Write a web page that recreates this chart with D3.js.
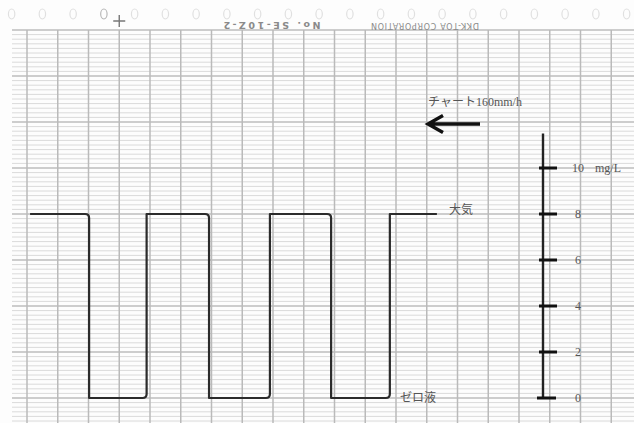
<!DOCTYPE html>
<html>
<head>
<meta charset="utf-8">
<script src="https://cdn.jsdelivr.net/npm/d3@7"></script>
<style>
  html, body { margin: 0; padding: 0; background: #fdfdfd; }
  svg { display: block; }
</style>
</head>
<body>
<svg id="chart" width="634" height="423"></svg>
<script>
// Recorder chart: dissolved-oxygen calibration trace (air / zero solution)

// Concentration scale ticks (mg/L)
const axisTicks = [0, 2, 4, 6, 8, 10];
const axisTop = 11.5;            // upper end of the printed scale bar
const unitLabel = "mg/L";

// Trace: chart-division positions where the level switches, and the level held after each switch
const switchTimes = [0.1, 2.02, 3.89, 5.92, 7.90, 9.89, 11.80, 13.33];
const levels      = [8, 0, 8, 0, 8, 0, 8];

// Annotations
const speedLabel = "チャート160mm/h";
const airLabel = "大気";
const zeroLabel = "ゼロ液";
const paperCode = "No. SE-10Z-2";
const maker = "DKK-TOA CORPORATION";

const W = 634, H = 423;
const svg = d3.select("#chart");

// Chart-paper coordinates: one time division per vertical rule, concentration vertically
const x = d3.scaleLinear().domain([0, 19]).range([27, 611.25]);
const y = d3.scaleLinear().domain([0, 10]).range([398, 168]);

const gridLeft = 12, gridTop = y(16);
const isMajor = d => Math.abs(d / 2 - Math.round(d / 2)) < 1e-6;

// Paper background
svg.append("rect").attr("width", W).attr("height", H).attr("fill", "#fdfdfd");

// Horizontal rules: fine every 0.2 mg/L, heavier every 2 mg/L
const hVals = d3.range(-5, 81).map(i => i / 5);   // -1.0 .. 16.0
svg.append("g").selectAll("line")
  .data(hVals)
  .join("line")
  .attr("x1", gridLeft).attr("x2", W)
  .attr("y1", d => y(d)).attr("y2", d => y(d))
  .attr("stroke", d => isMajor(d) ? "#bcbcbc" : "#dadada")
  .attr("stroke-width", d => isMajor(d) ? 1.3 : 1);

// Vertical time rules
svg.append("g").selectAll("line")
  .data(d3.range(0, 20))
  .join("line")
  .attr("x1", d => x(d)).attr("x2", d => x(d))
  .attr("y1", gridTop).attr("y2", H)
  .attr("stroke", "#bababa")
  .attr("stroke-width", 1.5);

// Printed marks along the top margin, centred between the time rules
svg.append("g").selectAll("ellipse")
  .data(d3.range(-1, 20))
  .join("ellipse")
  .attr("cx", d => x(d + 0.5))
  .attr("cy", 14)
  .attr("rx", 3.2).attr("ry", 5)
  .attr("fill", "none")
  .attr("stroke", d => d === 2 ? "#b8b8b8" : "#e0e0e0")
  .attr("stroke-width", 1.2);

// Registration cross
svg.append("path")
  .attr("d", `M${x(3) - 6},21H${x(3) + 6}M${x(3)},15V27`)
  .attr("stroke", "#777").attr("stroke-width", 1.4).attr("fill", "none");

// Paper maker's print, upside down
svg.append("text")
  .attr("transform", "translate(272,24) rotate(180)")
  .attr("text-anchor", "middle").attr("dominant-baseline", "middle")
  .attr("font-family", "DejaVu Sans, sans-serif")
  .attr("font-weight", "bold").attr("font-size", 9.5)
  .attr("textLength", 97).attr("lengthAdjust", "spacing")
  .attr("fill", "#8a8a8a")
  .text(paperCode);
svg.append("text")
  .attr("transform", "translate(425,25) rotate(180)")
  .attr("text-anchor", "middle").attr("dominant-baseline", "middle")
  .attr("font-family", "DejaVu Sans, sans-serif")
  .attr("font-size", 8)
  .attr("textLength", 108).attr("lengthAdjust", "spacing")
  .attr("fill", "#8a8a8a")
  .text(maker);

// Recorded trace: square wave with the rounded settling corner at the end of each level
const r = 4;
const p = d3.path();
p.moveTo(x(switchTimes[0]), y(levels[0]));
levels.forEach((lv, i) => {
  const xe = x(switchTimes[i + 1]);
  const yv = y(lv);
  if (i + 1 < levels.length) {
    const yn = y(levels[i + 1]);
    const dir = Math.sign(yn - yv);
    p.lineTo(xe - r, yv);
    p.quadraticCurveTo(xe, yv, xe, yv + dir * r);
    p.lineTo(xe, yn);
  } else {
    p.lineTo(xe, yv);
  }
});
svg.append("path")
  .attr("d", p.toString())
  .attr("fill", "none")
  .attr("stroke", "#2b2b2b")
  .attr("stroke-width", 2.2)
  .attr("stroke-linejoin", "round");

// Concentration scale bar
const axisX = 543;
const scale = svg.append("g");
scale.append("line")
  .attr("x1", axisX).attr("x2", axisX)
  .attr("y1", y(axisTop)).attr("y2", y(0))
  .attr("stroke", "#222").attr("stroke-width", 2.4);
scale.selectAll("line.tick")
  .data(axisTicks)
  .join("line")
  .attr("class", "tick")
  .attr("x1", d => d === 0 ? axisX - 6 : axisX - 4)
  .attr("x2", d => d === 0 ? axisX + 13 : axisX + 14)
  .attr("y1", d => y(d)).attr("y2", d => y(d))
  .attr("stroke", "#111").attr("stroke-width", 3);
scale.selectAll("text.tl")
  .data(axisTicks)
  .join("text")
  .attr("class", "tl")
  .attr("x", 578)
  .attr("y", d => y(d) + 4)
  .attr("text-anchor", "middle")
  .attr("font-family", "Liberation Serif, serif")
  .attr("font-size", 12)
  .attr("fill", "#555")
  .text(d => d);
scale.append("text")
  .attr("x", 595).attr("y", y(10) + 4)
  .attr("font-family", "Liberation Serif, serif")
  .attr("font-size", 12)
  .attr("fill", "#555")
  .text(unitLabel);

// Chart speed and feed direction
svg.append("text")
  .attr("x", 428).attr("y", 106)
  .attr("font-family", "Liberation Serif, Noto Sans CJK JP, serif")
  .attr("font-size", 12)
  .attr("fill", "#555")
  .text(speedLabel);
svg.append("path")
  .attr("d", "M480,124H428M443,115.5L428,124L443,132.5")
  .attr("fill", "none")
  .attr("stroke", "#111")
  .attr("stroke-width", 3.4)
  .attr("stroke-linejoin", "miter");

// Level labels
svg.append("text")
  .attr("x", 449).attr("y", y(8))
  .attr("font-family", "Noto Sans CJK JP, sans-serif")
  .attr("font-size", 12)
  .attr("fill", "#555")
  .text(airLabel);
svg.append("text")
  .attr("x", 400).attr("y", y(0) + 4)
  .attr("font-family", "Noto Sans CJK JP, sans-serif")
  .attr("font-size", 12)
  .attr("fill", "#555")
  .text(zeroLabel);
</script>
</body>
</html>
